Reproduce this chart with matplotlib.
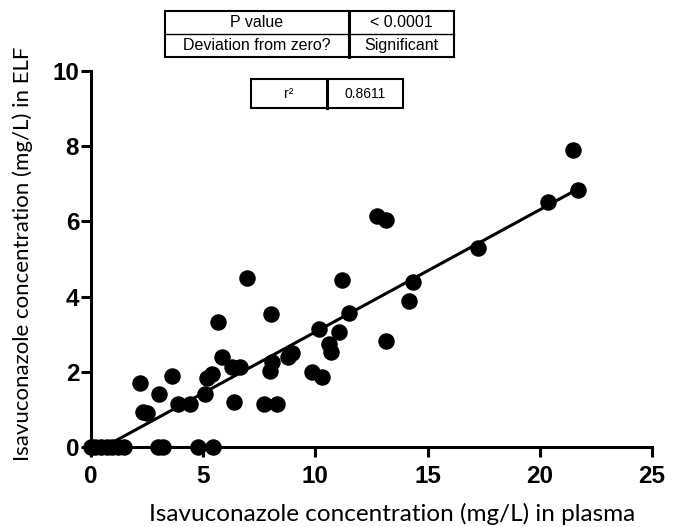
import numpy as np
import matplotlib
matplotlib.use("Agg")
import matplotlib.pyplot as plt
from matplotlib.patches import Rectangle

# plasma vs ELF concentration (mg/L)
plasma = [0.0, 0.2, 0.45, 0.7, 0.95, 1.2, 1.45, 3.0, 3.22, 4.78, 5.45,
          2.18, 3.6, 3.04, 2.3, 2.5, 3.89, 4.41, 5.1, 5.38, 5.15,
          6.39, 7.71, 8.3, 6.27, 6.64, 5.82, 8.05, 7.97, 8.79, 8.94,
          9.83, 10.28, 10.18, 11.07, 10.62, 10.7, 5.67, 8.02, 6.94, 11.17,
          11.5, 13.15, 14.19, 14.36, 12.76, 13.13, 17.26, 20.38, 21.5, 21.72]
elf = [0, 0, 0, 0, 0, 0, 0, 0, 0, 0, 0,
       1.70, 1.88, 1.42, 0.92, 0.90, 1.15, 1.14, 1.42, 1.95, 1.84,
       1.21, 1.14, 1.14, 2.13, 2.12, 2.39, 2.26, 2.02, 2.40, 2.50,
       2.00, 1.86, 3.15, 3.06, 2.73, 2.52, 3.32, 3.53, 4.49, 4.44,
       3.56, 2.82, 3.88, 4.39, 6.14, 6.05, 5.28, 6.52, 7.89, 6.83]

# linear regression line as drawn in the figure
fit_slope = 0.325
fit_intercept = -0.19

x_ticks = [0, 5, 10, 15, 20, 25]
y_ticks = [0, 2, 4, 6, 8, 10]

stats_rows = [["P value", "< 0.0001"], ["Deviation from zero?", "Significant"]]
r2_row = ["r\u00b2", "0.8611"]

x = np.array(plasma)
y = np.array(elf)

W, H = 682, 527
fig = plt.figure(figsize=(W / 100, H / 100), dpi=100)
ax = fig.add_axes([91 / W, 1 - 447 / H, 561 / W, 376 / H])

xl = np.array([x.min(), x.max()])
ax.plot(xl, fit_slope * xl + fit_intercept, color="black", lw=2.2, zorder=2)
ax.scatter(x, y, s=118, color="black", zorder=3, clip_on=False)

ax.set_xlim(0, 25)
ax.set_ylim(0, 10)
ax.set_xticks(x_ticks)
ax.set_yticks(y_ticks)
for s in ["top", "right"]:
    ax.spines[s].set_visible(False)
for s in ["left", "bottom"]:
    ax.spines[s].set_linewidth(2.2)
ax.tick_params(width=2.2, length=7, direction="out")
ax.tick_params(axis="x", pad=6)
ax.tick_params(axis="y", pad=1.5)
for lab in ax.get_xticklabels() + ax.get_yticklabels():
    lab.set_fontfamily("Liberation Sans")
    lab.set_fontweight("bold")
    lab.set_fontsize(17.5)

ax.set_xlabel("Isavuconazole concentration (mg/L) in plasma",
              fontfamily="Lato", fontsize=17.5)
ax.set_ylabel("Isavuconazole concentration (mg/L) in ELF",
              fontfamily="Lato", fontsize=16)
ax.xaxis.set_label_coords(0.536, -0.15)
ax.yaxis.set_label_coords(-0.104, 0.513)


def draw_table(rows, left, top, col, right, row_h, fs):
    # boxes given in pixels, converted to figure fraction
    n = len(rows)
    fig.add_artist(Rectangle((left / W, 1 - (top + n * row_h) / H),
                             (right - left) / W, n * row_h / H,
                             transform=fig.transFigure, fill=False,
                             lw=1.5, color="black"))
    for i in range(1, n):
        yy = 1 - (top + i * row_h) / H
        fig.add_artist(plt.Line2D([left / W, right / W], [yy, yy],
                                  transform=fig.transFigure, lw=1.0, color="black"))
    fig.add_artist(plt.Line2D([col / W, col / W],
                              [1 - top / H, 1 - (top + n * row_h) / H],
                              transform=fig.transFigure, lw=2.2, color="black"))
    for i, (a, b) in enumerate(rows):
        yc = 1 - (top + (i + 0.5) * row_h) / H
        fig.text((left + col) / 2 / W, yc, a, ha="center", va="center",
                 fontfamily="Liberation Sans", fontsize=fs)
        fig.text((col + right) / 2 / W, yc, b, ha="center", va="center",
                 fontfamily="Liberation Sans", fontsize=fs)


draw_table(stats_rows, 165, 11, 349, 454, 23, 11.5)
draw_table([r2_row], 251, 79, 327, 403, 29, 10)

fig.savefig("out.png", dpi=100)
